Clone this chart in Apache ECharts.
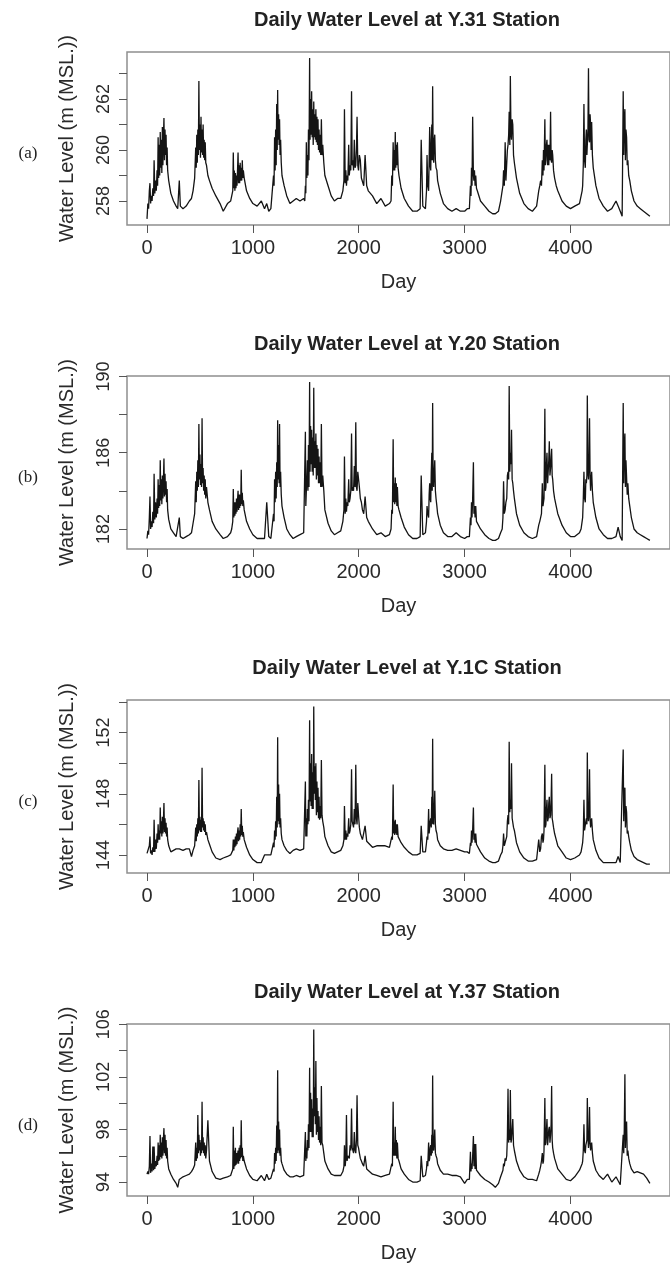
<!DOCTYPE html>
<html>
<head>
<meta charset="utf-8">
<script src="https://cdn.jsdelivr.net/npm/echarts@6/dist/echarts.min.js"></script>
<style>html,body{margin:0;padding:0;background:#fff}#c{width:670px;height:1264px}</style>
</head>
<body>
<div id="c"></div>
<script>
// Shared day index
const days = [
0,8,15,22,28,34,40,48,55,62,67,74,80,88,95,100,105,110,115,120,125,130,135,140,145,150,155,160,165,170,175,180,185,190,195,205,225,250,275,290,305,315,340,370,400,420,
435,450,460,465,470,475,480,485,490,495,500,505,510,515,520,525,530,535,540,545,550,555,562,575,590,615,650,690,720,760,790,
800,810,815,820,825,830,835,840,845,850,855,860,865,870,875,880,885,890,895,900,905,910,918,940,970,1000,1040,1080,1110,1131,1150,1170,
1185,1195,1200,1205,1210,1215,1220,1225,1230,1234,1238,1243,1248,1252,1257,1262,1268,1275,1295,1320,1350,1380,1410,1445,1480,
1490,1496,1500,1505,1510,1515,1520,1525,1530,1536,1540,1545,1550,1555,1560,1565,1570,1575,1580,1585,1590,1595,1600,1605,1610,1615,1620,1625,1630,1635,1641,1647,1653,1660,1670,1680,1710,1740,1770,1800,
1830,1850,1860,1865,1872,1878,1884,1890,1897,1905,1911,1918,1925,1932,1938,1945,1951,1958,1965,1972,1978,1984,1991,1998,2006,2015,2025,2035,2047,2060,2075,2090,2130,2170,2210,2250,2290,
2305,2312,2318,2325,2330,2335,2340,2345,2350,2355,2360,2365,2372,2380,2400,2430,2470,2510,2550,2580,2590,2605,
2630,2640,2645,2652,2660,2665,2670,2675,2680,2685,2690,2694,2698,2703,2708,2713,2718,2724,2730,2738,2745,2770,2800,2840,2880,2920,2960,3000,3025,
3045,3055,3060,3065,3070,3076,3083,3088,3093,3099,3105,3112,3120,3150,3190,3230,3265,3290,3320,3340,
3355,3362,3368,3375,3383,3390,3398,3404,3410,3416,3421,3427,3432,3438,3443,3449,3455,3462,3470,3490,3520,3560,3600,3640,
3680,3700,3710,3718,3726,3734,3740,3745,3750,3758,3763,3768,3773,3778,3784,3790,3795,3800,3806,3812,3817,3822,3827,3832,3840,3850,3865,3880,3920,3960,4000,4040,4085,
4100,4110,4115,4121,4127,4133,4140,4145,4150,4155,4159,4165,4170,4175,4180,4185,4190,4195,4200,4207,4215,4240,4270,4310,4350,4390,4430,4450,4470,4488,
4498,4503,4508,4514,4519,4524,4530,4536,4542,4550,4560,4575,4600,4630,4660,4690,4720,4750
];
// Y.31 station water level (m MSL)
const levelY31 = [
257.3,257.9,257.7,258.4,258.7,257.9,258.2,258.0,258.5,258.2,259.6,258.3,258.8,258.4,259.2,258.6,260.5,258.9,260.2,259.0,260.7,259.3,260.4,259.1,260.9,259.4,260.5,261.25,259.6,260.8,259.8,260.6,259.4,260.1,259.2,258.8,258.3,258.0,257.8,257.7,258.8,257.8,257.7,257.8,258.0,258.1,
258.4,258.9,260.1,259.3,260.6,259.5,260.8,259.8,262.7,260.0,261.0,259.7,261.3,259.9,260.8,259.8,261.0,259.7,260.4,259.6,260.3,259.5,259.4,259.0,258.8,258.5,258.2,257.9,257.6,257.9,258.0,
258.0,258.4,259.9,258.5,259.2,258.4,259.1,258.5,259.0,258.6,259.2,259.9,258.7,259.4,258.7,259.5,258.8,259.3,258.8,259.6,258.9,259.2,258.9,258.4,258.1,257.9,257.8,258.0,257.7,257.9,257.6,257.7,
257.7,259.0,258.6,260.5,259.2,260.8,259.4,261.8,260.0,262.35,260.4,261.4,260.2,261.2,259.8,260.4,259.5,259.0,258.6,258.2,257.9,258.0,258.1,258.0,258.1,
258.0,258.6,258.3,260.3,258.9,259.8,259.0,260.8,259.6,263.6,260.4,262.0,260.6,262.3,260.5,261.6,260.2,261.9,260.5,261.4,260.4,261.6,260.3,261.3,260.2,261.2,260.0,260.8,259.9,260.6,259.8,261.2,259.8,260.2,259.5,259.0,258.6,258.2,258.0,258.1,
258.1,258.4,258.8,261.6,258.7,259.2,258.6,259.0,258.8,260.2,259.0,259.4,259.2,262.3,259.4,259.6,259.2,260.4,259.3,259.4,260.0,261.3,259.4,259.2,259.8,259.6,258.9,258.9,258.6,259.8,258.6,258.4,258.2,257.9,258.1,257.8,257.9,
258.0,259.0,258.6,260.3,259.2,260.0,259.2,260.7,259.3,260.2,259.4,260.3,259.3,259.0,258.5,258.1,257.8,257.6,257.6,257.7,260.4,257.8,
257.7,258.4,259.8,258.6,258.4,259.6,260.9,259.4,259.2,260.4,261.0,259.6,262.5,259.8,259.5,260.4,260.6,259.6,259.3,259.2,258.8,258.3,257.9,257.7,257.6,257.7,257.6,257.6,257.7,
257.7,258.6,258.2,259.3,258.6,261.3,259.0,258.8,259.2,258.6,259.0,258.5,258.4,258.0,257.8,257.6,257.5,257.5,257.6,258.0,
258.0,258.6,259.2,258.6,260.3,258.8,258.8,260.0,260.2,260.6,261.5,260.2,262.9,260.6,260.4,261.2,261.0,259.8,259.5,258.9,258.3,257.9,257.7,257.6,
257.8,258.4,258.6,258.8,258.6,259.6,259.0,260.0,259.2,261.2,259.4,259.6,260.2,260.4,259.4,260.2,259.4,260.2,259.6,261.5,259.6,259.5,260.0,259.8,259.2,258.9,258.6,258.4,258.0,257.8,257.7,257.8,257.9,
257.9,258.4,258.6,259.4,261.8,259.6,259.3,260.4,260.8,259.8,259.8,260.8,263.2,260.4,260.3,261.4,261.0,260.0,261.1,259.8,259.3,258.6,258.1,257.8,257.6,257.7,258.0,257.8,257.6,257.4,
262.3,259.8,261.2,261.6,259.6,260.8,260.5,259.4,259.6,259.0,258.8,258.4,258.0,257.8,257.7,257.6,257.5,257.4
];
// Y.20 station
const levelY20 = [
181.5,181.9,181.7,182.6,183.7,182.0,182.4,182.1,182.9,182.3,184.9,182.5,183.4,182.6,183.6,182.8,184.6,183.1,184.3,183.2,185.6,183.5,184.6,183.3,184.8,183.6,184.5,185.7,183.7,184.9,183.8,184.5,183.4,184.1,183.0,182.5,182.0,181.8,181.6,181.5,182.6,181.6,181.5,181.6,181.7,181.8,
182.3,182.8,184.5,183.4,185.0,184.0,185.6,184.2,187.5,184.6,185.9,184.3,185.4,184.2,187.8,184.4,185.2,184.0,184.8,183.8,184.6,183.6,184.2,183.4,183.0,182.4,182.0,181.7,181.5,181.6,181.8,
182.0,182.4,184.1,182.6,183.4,182.7,183.4,182.8,183.6,182.9,183.5,184.0,183.0,183.8,183.1,183.8,183.2,185.1,183.3,183.9,183.2,183.5,183.0,182.4,182.0,181.7,181.5,181.5,181.5,183.4,181.6,181.5,
181.6,182.8,182.4,184.6,183.4,185.0,183.6,185.5,184.2,187.7,184.6,186.4,184.4,187.5,184.2,185.0,183.8,183.2,182.6,182.0,181.7,181.5,181.6,181.7,181.8,
181.8,187.1,183.2,184.0,184.6,185.6,184.0,186.4,184.2,189.7,185.0,187.4,185.4,187.2,185.0,186.8,184.8,189.4,185.2,186.6,185.2,187.0,184.6,186.4,184.8,186.2,184.4,185.8,184.4,185.5,184.2,187.5,184.2,184.8,184.0,183.0,182.3,181.9,181.7,181.8,
181.9,182.4,183.0,185.8,182.8,183.6,182.9,183.4,183.2,184.6,183.4,183.6,184.0,187.0,184.0,184.2,184.0,185.3,184.2,187.6,184.2,184.0,185.0,185.0,184.2,183.6,183.4,183.0,182.8,183.7,182.6,182.4,182.0,181.7,181.8,181.6,181.7,
182.0,183.0,182.8,186.7,183.4,184.4,183.3,184.7,183.4,184.4,183.2,184.2,183.2,183.0,182.6,182.1,181.7,181.5,181.5,181.6,184.8,181.7,
181.8,182.4,183.2,182.8,182.6,183.8,184.4,183.6,183.4,185.0,186.0,184.0,188.6,184.4,184.2,185.0,185.6,184.0,183.6,183.2,182.8,182.2,181.8,181.6,181.6,181.8,181.6,181.5,181.6,
181.6,182.6,182.2,183.4,182.6,183.6,185.5,182.8,183.2,182.6,183.2,182.4,182.4,182.0,181.7,181.5,181.4,181.4,181.5,181.8,
182.0,182.6,184.5,182.8,183.0,183.4,183.6,184.8,185.0,184.6,189.5,185.0,186.0,185.4,187.2,184.6,184.4,184.0,183.6,182.8,182.2,181.8,181.6,181.5,
181.6,182.2,182.4,182.6,182.8,184.4,183.2,183.2,183.6,188.3,184.0,184.2,185.4,186.0,184.4,184.4,185.6,186.6,184.8,185.2,185.8,186.2,184.8,184.6,184.0,183.6,183.2,182.8,182.2,181.8,181.6,181.6,181.8,
182.0,182.4,182.6,183.6,185.0,183.6,183.4,184.6,184.4,184.8,189.0,185.0,184.6,185.4,187.8,184.8,184.0,184.6,185.0,184.0,183.4,182.6,182.0,181.7,181.5,181.5,181.6,182.1,181.6,181.4,
188.6,184.4,186.2,187.0,184.2,185.6,185.5,183.8,184.4,183.6,183.2,182.6,182.0,181.8,181.7,181.6,181.5,181.4
];
// Y.1C station
const levelY1C = [
144.1,144.2,144.0,144.6,145.2,144.1,144.3,144.0,144.5,144.2,146.3,144.2,145.0,144.4,145.4,144.8,146.0,145.0,145.6,145.0,147.1,145.4,146.2,145.2,146.5,145.4,146.2,147.4,145.5,146.4,145.4,146.1,145.2,145.8,145.0,144.6,144.2,144.3,144.4,144.4,144.4,144.4,144.3,144.4,144.4,143.9,
144.3,144.6,145.8,144.9,146.0,145.2,146.4,145.4,148.9,145.6,146.5,145.5,146.3,145.5,149.7,145.8,146.4,145.6,146.2,145.5,146.0,145.3,145.5,145.0,144.7,144.2,143.8,143.7,143.8,143.9,144.0,
144.0,144.3,145.0,144.3,145.0,144.5,145.2,144.6,145.4,144.7,145.5,145.8,144.9,145.6,145.0,146.0,145.2,147.0,145.3,145.9,145.2,145.5,145.0,144.5,144.0,143.7,143.5,143.5,144.0,144.0,144.0,144.0,
144.0,144.8,144.5,145.6,145.0,146.2,145.2,147.8,145.8,151.7,146.2,148.6,146.0,148.0,145.8,146.4,145.4,145.0,144.6,144.3,144.1,144.3,144.4,144.3,144.4,
144.3,148.8,145.2,146.4,145.2,147.0,146.0,147.6,146.2,152.8,147.5,150.0,147.2,150.6,147.0,149.4,147.0,153.7,148.0,149.8,147.6,150.0,146.6,148.8,146.8,148.4,146.4,147.8,146.3,147.2,146.4,150.2,146.6,146.2,145.8,145.2,144.6,144.2,144.1,144.2,
144.3,144.6,145.0,147.2,145.0,145.6,145.0,145.4,145.2,146.4,145.4,145.6,146.0,149.6,146.2,146.2,145.8,147.0,146.0,149.9,146.4,146.0,147.4,146.6,145.8,145.4,145.2,145.0,144.9,145.9,144.9,144.8,144.5,144.6,144.6,144.6,144.5,
144.5,145.2,145.0,148.6,145.4,146.2,145.3,146.3,145.4,146.0,145.3,146.0,145.2,145.2,144.8,144.5,144.2,144.0,144.0,144.1,145.9,144.2,
144.2,144.8,145.2,145.0,147.0,145.4,145.5,146.2,146.4,145.8,147.8,146.0,151.6,146.4,146.0,147.0,148.2,146.0,145.6,145.4,145.0,144.6,144.4,144.3,144.3,144.4,144.3,144.2,144.2,
144.1,144.8,144.6,145.6,144.8,145.6,147.1,145.0,145.4,144.8,145.4,144.7,144.7,144.2,143.8,143.6,143.5,143.5,143.6,144.0,
144.2,144.6,145.4,144.6,144.6,145.0,145.2,146.2,146.6,146.0,151.4,146.8,147.6,147.0,150.0,146.4,146.4,145.8,145.6,144.8,144.2,143.8,143.6,143.6,
143.7,145.0,144.2,144.4,145.2,145.4,144.8,145.0,145.6,149.9,145.8,146.0,147.0,147.6,146.2,146.4,147.4,147.8,146.4,146.6,147.6,149.3,146.4,146.2,145.8,145.4,145.0,144.6,144.2,143.8,143.7,143.8,144.0,
144.2,144.6,144.8,145.4,147.6,145.6,145.6,146.2,146.4,146.0,150.7,146.6,146.2,146.8,149.6,146.4,145.8,146.2,146.4,145.6,145.0,144.3,143.8,143.5,143.5,143.5,143.5,143.9,143.5,143.5,
150.9,146.2,148.0,148.4,145.8,147.2,146.8,145.4,145.6,145.2,144.8,144.3,143.9,143.7,143.6,143.5,143.4,143.4
];
// Y.37 station
const levelY37 = [
94.6,94.8,94.6,95.2,97.5,94.7,95.4,94.8,96.7,94.9,96.7,95.0,95.6,95.2,96.0,95.3,97.0,95.6,96.8,95.7,97.6,95.9,97.0,95.8,97.4,96.0,97.3,98.1,96.2,97.6,96.0,97.2,95.8,96.6,95.6,95.0,94.6,94.2,93.9,93.6,94.2,94.3,94.4,94.5,94.6,94.8,
95.0,95.3,97.0,95.6,96.6,95.8,99.1,96.2,97.6,96.4,97.2,96.0,97.0,96.2,100.1,96.4,97.4,96.2,97.0,96.0,96.8,95.8,96.4,98.7,95.6,94.8,94.3,94.2,94.3,94.4,94.5,
94.6,95.0,98.2,95.0,96.4,95.2,96.6,95.3,96.2,95.4,96.0,96.4,95.4,96.6,95.6,96.8,95.8,98.7,95.9,96.6,95.6,96.0,95.6,95.0,94.5,94.2,94.1,94.5,94.1,94.6,94.2,94.3,
94.4,95.0,94.8,96.2,95.4,96.6,95.6,98.3,96.2,102.5,96.4,98.6,96.2,98.0,96.0,96.6,95.6,95.4,94.9,94.6,94.4,94.4,94.5,94.4,94.5,
94.5,97.8,95.6,96.6,95.8,97.2,96.4,98.4,96.6,102.7,97.8,100.8,97.8,100.3,97.4,99.6,97.4,105.6,99.0,101.2,98.4,103.2,97.6,100.4,97.8,99.4,97.2,99.0,97.0,98.2,96.8,101.3,97.0,96.8,96.2,95.6,95.0,94.6,94.5,94.5,
94.5,94.8,95.2,96.8,95.2,95.8,99.1,95.6,96.0,96.0,95.8,96.8,96.4,99.6,96.6,96.4,96.2,97.8,96.4,96.2,97.2,100.6,96.8,96.6,96.2,95.8,95.6,95.4,95.2,96.0,95.0,94.9,94.6,94.5,94.4,94.5,94.6,
94.6,95.4,95.2,100.1,96.0,97.0,96.0,98.2,96.0,97.2,95.8,97.0,95.8,95.6,95.0,94.6,94.2,94.0,94.0,94.1,96.0,94.4,
94.5,95.0,95.6,95.2,97.0,95.6,95.8,96.6,96.8,96.0,97.6,96.2,102.1,96.6,96.4,97.2,98.0,96.2,96.0,95.8,95.4,94.9,94.6,94.6,94.5,94.5,94.4,93.9,94.2,
94.2,96.3,94.8,95.4,95.0,96.0,97.5,95.2,96.9,95.0,96.9,94.9,94.8,94.5,94.2,94.0,93.8,93.6,93.9,94.4,
94.4,94.9,95.4,95.2,95.8,95.6,96.0,97.4,101.1,97.0,98.0,97.2,101.0,97.0,97.2,98.0,98.8,96.8,96.4,95.6,94.9,94.4,94.2,94.2,
94.1,94.6,94.9,95.2,95.6,96.2,95.4,95.6,96.4,100.4,96.8,97.0,98.0,98.8,96.8,96.8,98.0,98.2,97.0,97.6,98.4,101.3,97.2,96.6,96.2,95.8,95.4,95.0,94.6,94.2,94.1,94.4,94.9,
95.0,95.4,95.6,96.4,98.4,96.4,96.2,96.8,97.0,97.2,100.4,97.4,96.6,97.2,99.7,97.0,96.4,96.8,97.0,96.2,95.6,94.9,94.5,94.2,94.6,94.0,94.4,94.1,93.8,93.9,
97.6,96.2,98.0,102.2,96.6,98.4,98.6,96.0,96.4,95.8,95.4,95.0,94.7,94.8,94.7,94.6,94.3,93.9
];

const stationNames = ['Y.31','Y.20','Y.1C','Y.37'];
const panelLabels = ['(a)','(b)','(c)','(d)'];
const xTickValues = [0,1000,2000,3000,4000];
const yTicksA = [258,259,260,261,262,263], yLabelsA = [258,260,262];
const yTicksB = [182,184,186,188,190], yLabelsB = [182,186,190];
const yTicksC = [144,146,148,150,152,154], yLabelsC = [144,148,152];
const yTicksD = [94,96,98,100,102,104,106], yLabelsD = [94,98,102,106];
const yRangeA = [257.06, 263.84], yRangeB = [180.95, 190.02], yRangeC = [142.82, 154.13], yRangeD = [92.94, 106.02];
const xRange = [-189, 4940];

const levels = [levelY31, levelY20, levelY1C, levelY37];
const yTicks = [yTicksA, yTicksB, yTicksC, yTicksD];
const yLabels = [yLabelsA, yLabelsB, yLabelsC, yLabelsD];
const yRanges = [yRangeA, yRangeB, yRangeC, yRangeD];

levels.forEach((l, i) => { if (l.length !== days.length) throw new Error('length mismatch series ' + i + ': ' + l.length + ' vs ' + days.length); });

const PANEL = 324, TOP = 52, H = 173, LEFT = 127, W = 551;
const SANS = 'Liberation Sans, Arial, sans-serif';
const TXT = '#2a2a2a';

const grids = [], xAxes = [], yAxes = [], series = [], titles = [];
for (let k = 0; k < 4; k++) {
  grids.push({ left: LEFT, top: TOP + PANEL * k, width: W, height: H, show: true, borderColor: '#8f8f8f', borderWidth: 1.5, backgroundColor: 'transparent', containLabel: false });
  xAxes.push({
    type: 'value', gridIndex: k, min: xRange[0], max: xRange[1],
    axisLine: { show: false, onZero: false },
    axisTick: { show: true, length: 8, customValues: xTickValues, lineStyle: { color: '#555', width: 1 } },
    axisLabel: { customValues: xTickValues, formatter: v => String(v), fontSize: 20, color: TXT, fontFamily: SANS, margin: 13 },
    splitLine: { show: false },
    name: 'Day', nameLocation: 'middle', nameGap: 47,
    nameTextStyle: { fontSize: 20, color: TXT, fontFamily: SANS }
  });
  yAxes.push({
    type: 'value', gridIndex: k, min: yRanges[k][0], max: yRanges[k][1],
    axisLine: { show: false, onZero: false },
    axisTick: { show: true, length: 8, customValues: yTicks[k], lineStyle: { color: '#555', width: 1 } },
    axisLabel: { customValues: yLabels[k], formatter: v => String(v), rotate: 90, fontSize: 18, color: TXT, fontFamily: SANS, margin: 14 },
    splitLine: { show: false },
    name: 'Water Level (m (MSL.))', nameLocation: 'middle', nameGap: 50,
    nameTextStyle: { fontSize: 20, color: TXT, fontFamily: SANS }
  });
  series.push({
    type: 'line', xAxisIndex: k, yAxisIndex: k, showSymbol: false, silent: true,
    data: days.map((d, i) => [d, levels[k][i]]),
    lineStyle: { color: '#141414', width: 1.3 }, itemStyle: { color: '#141414' }
  });
  titles.push({ text: 'Daily Water Level at ' + stationNames[k] + ' Station', left: 402, top: 5 + PANEL * k, textAlign: 'center',
    textStyle: { fontSize: 20, fontWeight: 'bold', color: '#222', fontFamily: SANS } });
  titles.push({ text: panelLabels[k], left: 23, top: 140 + PANEL * k, textAlign: 'center',
    textStyle: { fontSize: 17, fontWeight: 'normal', color: '#222', fontFamily: 'Liberation Serif, serif' } });
}

const chart = echarts.init(document.getElementById('c'), null, { renderer: 'canvas' });
chart.setOption({
  animation: false, backgroundColor: '#fff',
  title: titles, grid: grids, xAxis: xAxes, yAxis: yAxes, series: series
});
</script>
</body>
</html>
